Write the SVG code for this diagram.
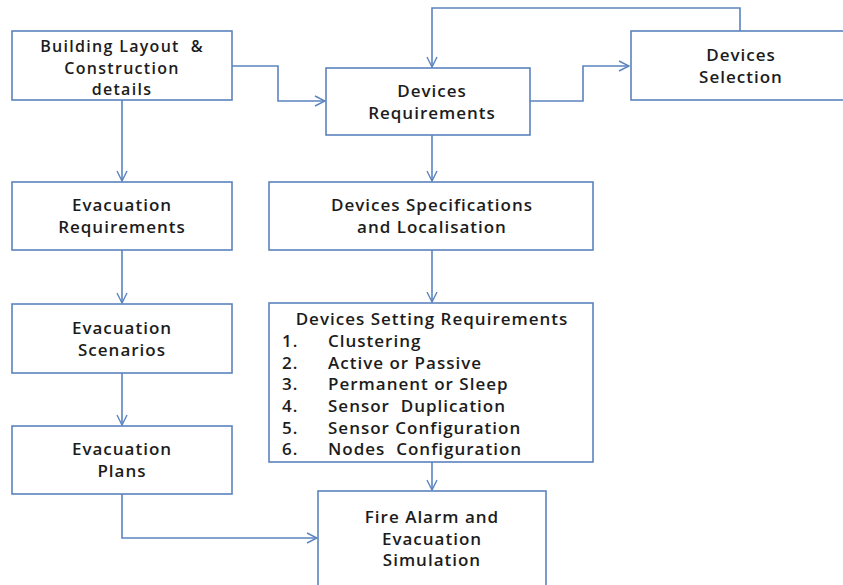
<svg xmlns="http://www.w3.org/2000/svg" width="843" height="585" viewBox="0 0 843 585">
<defs>
<style>
.box{fill:#fff;stroke:#5b84bf;stroke-width:1.6}
.ln{fill:none;stroke:#5b84bf;stroke-width:1.6}
.t{font-family:"Open Sans","Liberation Sans",Arial,sans-serif;font-weight:600;font-size:17px;letter-spacing:1px;fill:#1c1c1c;text-anchor:middle;white-space:pre}
.s{font-size:16px;letter-spacing:1.3px}
.l{text-anchor:start}
</style>
<marker id="ah" viewBox="0 0 12 12" refX="11" refY="6" markerWidth="12" markerHeight="12" markerUnits="userSpaceOnUse" orient="auto">
<path d="M1,1 L11,6 L1,11" fill="none" stroke="#5b84bf" stroke-width="1.4"/>
</marker>
</defs>
<rect width="843" height="585" fill="#fff"/>
<g id="connectors">
<path class="ln" d="M232,66 H278 V101 H325" marker-end="url(#ah)"/>
<path class="ln" d="M530,101 H583 V66 H629" marker-end="url(#ah)"/>
<path class="ln" d="M740,31 V8 H432 V67" marker-end="url(#ah)"/>
<path class="ln" d="M122,100 V181" marker-end="url(#ah)"/>
<path class="ln" d="M122,250 V303" marker-end="url(#ah)"/>
<path class="ln" d="M122,373 V425" marker-end="url(#ah)"/>
<path class="ln" d="M122,494 V538 H317" marker-end="url(#ah)"/>
<path class="ln" d="M432,135 V181" marker-end="url(#ah)"/>
<path class="ln" d="M432,250 V302" marker-end="url(#ah)"/>
<path class="ln" d="M432,462 V490" marker-end="url(#ah)"/>
</g>
<g id="building">
<rect class="box" x="12" y="31" width="220" height="69"/>
<text class="t s" x="122" y="51.5">Building Layout  &amp;</text>
<text class="t s" x="122" y="73.5">Construction</text>
<text class="t s" x="122" y="95">details</text>
</g>
<g id="devreq">
<rect class="box" x="326" y="68" width="204" height="67"/>
<text class="t" x="432" y="97">Devices</text>
<text class="t" x="432" y="119">Requirements</text>
</g>
<g id="devsel">
<rect class="box" x="631" y="31" width="220" height="69"/>
<text class="t" x="741" y="61">Devices</text>
<text class="t" x="741" y="83">Selection</text>
</g>
<g id="evacreq">
<rect class="box" x="12" y="182" width="220" height="68"/>
<text class="t" x="122" y="211">Evacuation</text>
<text class="t" x="122" y="233">Requirements</text>
</g>
<g id="evacscen">
<rect class="box" x="12" y="304" width="220" height="69"/>
<text class="t" x="122" y="334">Evacuation</text>
<text class="t" x="122" y="356">Scenarios</text>
</g>
<g id="evacplans">
<rect class="box" x="12" y="426" width="220" height="68"/>
<text class="t" x="122" y="455">Evacuation</text>
<text class="t" x="122" y="477">Plans</text>
</g>
<g id="devspec">
<rect class="box" x="269" y="182" width="324" height="68"/>
<text class="t" x="432" y="211">Devices Specifications</text>
<text class="t" x="432" y="233">and Localisation</text>
</g>
<g id="devset">
<rect class="box" x="269" y="303" width="324" height="159"/>
<text class="t" x="432" y="325">Devices Setting Requirements</text>
<text class="t l" x="282" y="347">1.</text><text class="t l" x="328" y="347">Clustering</text>
<text class="t l" x="282" y="369">2.</text><text class="t l" x="328" y="369">Active or Passive</text>
<text class="t l" x="282" y="390">3.</text><text class="t l" x="328" y="390">Permanent or Sleep</text>
<text class="t l" x="282" y="412">4.</text><text class="t l" x="328" y="412">Sensor  Duplication</text>
<text class="t l" x="282" y="434">5.</text><text class="t l" x="328" y="434">Sensor Configuration</text>
<text class="t l" x="282" y="455">6.</text><text class="t l" x="328" y="455">Nodes  Configuration</text>
</g>
<g id="fire">
<rect class="box" x="318" y="491" width="228" height="100"/>
<text class="t" x="432" y="523">Fire Alarm and</text>
<text class="t" x="432" y="545">Evacuation</text>
<text class="t" x="432" y="566">Simulation</text>
</g>
</svg>
